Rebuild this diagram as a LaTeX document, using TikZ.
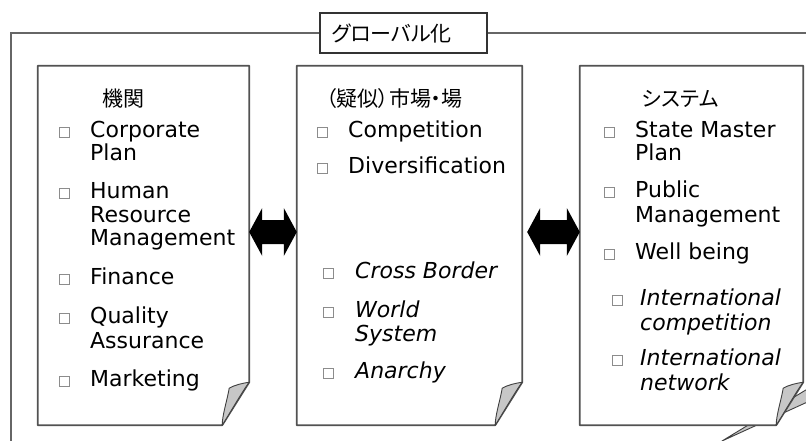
\documentclass[tikz,border=0pt]{standalone}
\usepackage{fontspec}
\setmainfont{DejaVu Sans}
\newfontfamily\jp[RawFeature=+palt]{Noto Sans CJK JP}
\usetikzlibrary{calc}
\tikzset{
  frameline/.style={draw=black!60, line width=1.5pt},
  labelbox/.style={draw=black!80, line width=1.5pt, fill=white, minimum width=167pt, minimum height=40pt, inner sep=0pt},
  boxarea/.style={draw=none, inner sep=0pt, minimum height=359pt},
  paper/.style={draw=black!68, line width=1.8pt, fill=white, line join=round},
  flap/.style={fill=black!22, draw=black!75, line width=0.9pt, line join=round},
  fatarrow/.style={fill=black},
  bul/.style={draw=black!45, line width=0.9pt, minimum size=10pt, inner sep=0pt},
  txt/.style={font=\fontsize{22}{24}\selectfont, anchor=base west, inner sep=0pt},
  ittxt/.style={txt, font=\fontsize{22}{24}\selectfont\itshape},
  jptxt/.style={font=\fontsize{21}{24}\selectfont\jp, anchor=base west, inner sep=0pt},
}
\begin{document}
\begin{tikzpicture}[x=1pt,y=-1pt]
\useasboundingbox (0,0) rectangle (806,440);
\clip (0,0) rectangle (806,440);
\fill[white] (0,0) rectangle (806,440);

% outer frame and its label
\node[labelbox] (globbox) at (403.5,33) {};
\node[jptxt, anchor=west] (glob) at ($(globbox.west)+(12,0)$) {グローバル化};
\coordinate (outerTL) at (11,33);
\coordinate (outerBL) at (11,450);
\coordinate (outerTR) at (820,33);
\draw[frameline] (globbox.west) -- (outerTL) -- (outerBL);
\draw[frameline] (globbox.east) -- (outerTR);
% curled corner of the outer frame (mostly hidden)
\coordinate (ofA) at (722,441);
\coordinate (ofB) at (814,385);
\coordinate (ofC) at (814,399);
\filldraw[flap] (ofA) -- (ofB) -- (ofC) -- cycle;

% the three sheets
\node[boxarea, minimum width=211pt] (inst) at (143.5,245.5) {};
\node[boxarea, minimum width=225pt] (mkt) at (409.5,245.5) {};
\node[boxarea, minimum width=223pt] (sys) at (691.5,245.5) {};

\foreach \n in {inst,mkt,sys}{
  \coordinate (\n-A) at ($(\n.south east)+(0,-43)$);
  \coordinate (\n-C) at ($(\n.south east)+(-27,0)$);
  \coordinate (\n-N) at ($(\n.south east)+(-20,-37)$);
  \draw[paper] (\n.north west) -- (\n.north east) -- (\n-A) -- (\n-C) -- (\n.south west) -- cycle;
  \filldraw[flap] (\n-A) .. controls ($(\n-A)+(-7,1)$) and ($(\n-N)+(5,-3)$) .. (\n-N)
     .. controls ($(\n-N)+(-2,12)$) and ($(\n-C)+(0,-10)$) .. (\n-C)
     .. controls ($(\n-C)+(10,-16)$) and ($(\n-A)+(-6,8)$) .. (\n-A) -- cycle;
}

% double arrows between the sheets
\foreach \p/\q/\d in {inst/mkt/0, mkt/sys/5}{
  \path ($(\p.east |- 0,232)+(\d,0)$) coordinate (L) (\q.west |- 0,232) coordinate (R);
  \fill[fatarrow] (L) -- ($(L)+(13,-24)$) -- ($(L)+(13,-12)$) -- ($(R)+(-13,-12)$) -- ($(R)+(-13,-24)$) -- (R)
     -- ($(R)+(-13,24)$) -- ($(R)+(-13,12)$) -- ($(L)+(13,12)$) -- ($(L)+(13,24)$) -- cycle;
}

% left sheet
\node[jptxt] (h1) at (102,106) {機関};
\node[bul] (b11) at (64.5,132) {};
\node[txt] (t11) at (90,137) {Corporate};
\node[txt] (t11b) at (90,160) {Plan};
\node[bul] (b12) at (64.5,193) {};
\node[txt] (t12) at (90,198) {Human};
\node[txt] (t12b) at (90,222) {Resource};
\node[txt] (t12c) at (90,245) {Management};
\node[bul] (b13) at (64.5,279) {};
\node[txt] (t13) at (90,284) {Finance};
\node[bul] (b14) at (64.5,318) {};
\node[txt] (t14) at (90,323) {Quality};
\node[txt] (t14b) at (90,348) {Assurance};
\node[bul] (b15) at (64.5,381) {};
\node[txt] (t15) at (90,386) {Marketing};

% middle sheet
\node[jptxt] (h2) at (326,106) {（疑似）市場・場};
\node[bul] (b21) at (322,132) {};
\node[txt] (t21) at (348,137) {Competition};
\node[bul] (b22) at (322,168) {};
\node[txt] (t22) at (348,173) {Diversification};
\node[bul] (b23) at (328,273) {};
\node[ittxt] (t23) at (355,278) {Cross Border};
\node[bul] (b24) at (328,312) {};
\node[ittxt] (t24) at (355,317) {World};
\node[ittxt] (t24b) at (355,341) {System};
\node[bul] (b25) at (328,373) {};
\node[ittxt] (t25) at (355,378) {Anarchy};

% right sheet
\node[jptxt] (h3) at (642,106) {システム};
\node[bul] (b31) at (609,132) {};
\node[txt] (t31) at (635,137) {State Master};
\node[txt] (t31b) at (635,160) {Plan};
\node[bul] (b32) at (609,192) {};
\node[txt] (t32) at (635,197) {Public};
\node[txt] (t32b) at (635,222) {Management};
\node[bul] (b33) at (609,254) {};
\node[txt] (t33) at (635,259) {Well being};
\node[bul] (b34) at (617,300) {};
\node[ittxt] (t34) at (640,305) {International};
\node[ittxt] (t34b) at (640,330) {competition};
\node[bul] (b35) at (617,360) {};
\node[ittxt] (t35) at (640,365) {International};
\node[ittxt] (t35b) at (640,390) {network};
\end{tikzpicture}
\end{document}
